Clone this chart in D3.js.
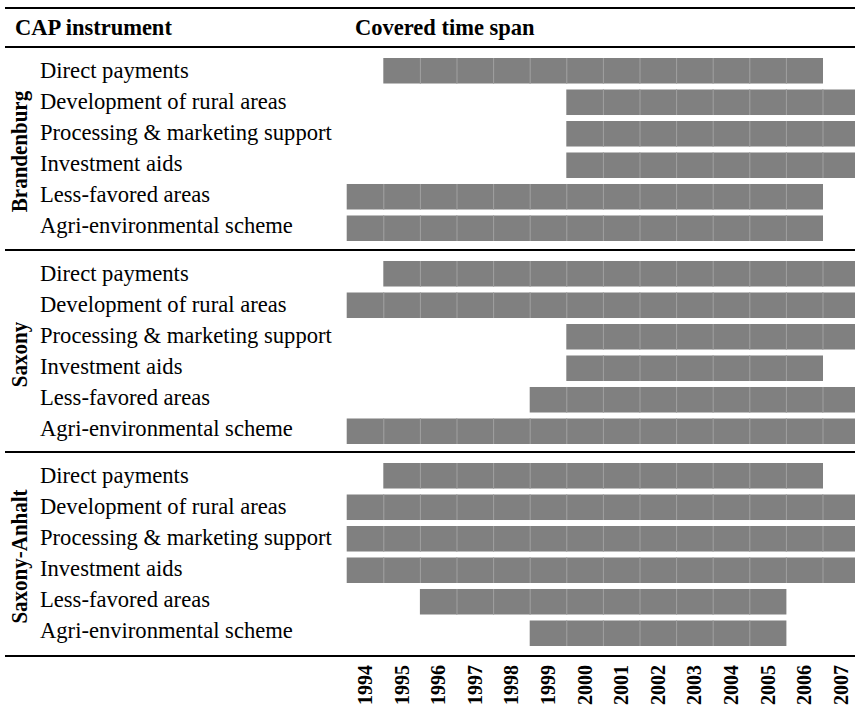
<!DOCTYPE html>
<html>
<head>
<meta charset="utf-8">
<script src="https://cdn.jsdelivr.net/npm/d3@7"></script>
<style>
  body { margin: 0; background: #fff; }
  text { font-family: "Liberation Serif", "Times New Roman", serif; fill: #000; }
</style>
</head>
<body>
<div id="container"></div>
<script>
/* CAP instruments - covered time span */

/* DATA */
const years = d3.range(1994, 2008)
const regions = ["Brandenburg", "Saxony", "Saxony-Anhalt"]
const instruments = ["Direct payments", "Development of rural areas", "Processing & marketing support",
  "Investment aids", "Less-favored areas", "Agri-environmental scheme"]

// [first year, last year] per instrument, same order as instruments
const brandenburgSpans = [[1995, 2006], [2000, 2007], [2000, 2007], [2000, 2007], [1994, 2006], [1994, 2006]]
const saxonySpans = [[1995, 2007], [1994, 2007], [2000, 2007], [2000, 2006], [1999, 2007], [1994, 2007]]
const saxonyAnhaltSpans = [[1995, 2006], [1994, 2007], [1994, 2007], [1994, 2007], [1996, 2005], [1999, 2005]]
const spans = [brandenburgSpans, saxonySpans, saxonyAnhaltSpans]

/* CONSTANTS */
const width = 855, height = 712
const colLeft = 346.7, colW = 36.6
const groupTops = [47, 250, 452], bottomRule = 656

const svg = d3.select("#container").append("svg")
  .attr("width", width)
  .attr("height", height)

// x scale: one band per year
const xScale = d3.scaleBand()
  .domain(years)
  .range([colLeft, colLeft + colW * years.length])

// header
svg.append("text").attr("x", 15).attr("y", 35)
  .style("font-size", "22.5px").style("font-weight", "bold").text("CAP instrument")
svg.append("text").attr("x", 355).attr("y", 35)
  .style("font-size", "22.5px").style("font-weight", "bold").text("Covered time span")

// rules
const rules = [{ y: 8 }, ...groupTops.map(y => ({ y })), { y: bottomRule }]
svg.selectAll(".rule")
  .data(rules)
  .join("line")
  .attr("class", "rule")
  .attr("x1", 5).attr("x2", width)
  .attr("y1", d => d.y).attr("y2", d => d.y)
  .attr("stroke", "#000").attr("stroke-width", 2.2)

// groups
regions.forEach((region, gi) => {
  const top = groupTops[gi]
  const g = svg.append("g")

  const yScale = d3.scaleBand()
    .domain(instruments)
    .range([top + 11, top + 194])
    .paddingInner(0.19)

  // label rows
  const yLabel = d3.scalePoint()
    .domain(instruments)
    .range([top + 31, top + 31 + 5 * 30.9])

  g.selectAll(".label")
    .data(instruments)
    .join("text")
    .attr("class", "label")
    .attr("x", 40)
    .attr("y", d => yLabel(d))
    .style("font-size", "22.6px")
    .text(d => d)

  // region label (rotated)
  const midY = (yScale.range()[0] + yScale.range()[1]) / 2
  g.append("text")
    .attr("transform", `translate(27,${midY + 2}) scale(1.08,1) rotate(-90)`)
    .attr("text-anchor", "middle")
    .style("font-size", "21px")
    .style("font-weight", "bold")
    .text(region)

  // year cells for each instrument
  const cells = []
  instruments.forEach((inst, i) => {
    const [a, b] = spans[gi][i]
    years.filter(y => y >= a && y <= b).forEach(y => cells.push({ inst, year: y, first: y === a }))
  })

  g.selectAll(".cell")
    .data(cells)
    .join("rect")
    .attr("class", "cell")
    .attr("x", d => xScale(d.year))
    .attr("y", d => yScale(d.inst))
    .attr("width", xScale.bandwidth() + 0.5)
    .attr("height", yScale.bandwidth())
    .attr("fill", "#808080")

  // faint lighter year separators inside the bars
  g.selectAll(".sep")
    .data(cells.filter(d => !d.first))
    .join("line")
    .attr("class", "sep")
    .attr("x1", d => xScale(d.year) + 0.5)
    .attr("x2", d => xScale(d.year) + 0.5)
    .attr("y1", d => yScale(d.inst))
    .attr("y2", d => yScale(d.inst) + yScale.bandwidth())
    .attr("stroke", "#a0a0a0")
    .attr("stroke-width", 1)
})

// year axis (rotated labels)
const xAxis = d3.axisBottom(xScale).tickSize(0)
svg.append("g")
  .attr("transform", `translate(0,${bottomRule})`)
  .call(xAxis)
  .call(g => g.select(".domain").remove())
  .selectAll("text")
  .attr("transform", "rotate(-90)")
  .attr("x", -9)
  .attr("y", 0)
  .attr("dy", "0.35em")
  .attr("text-anchor", "end")
  .style("font-family", "'Liberation Serif', 'Times New Roman', serif")
  .style("font-size", "20px")
  .style("font-weight", "bold")
  .attr("fill", "#000")
</script>
</body>
</html>
